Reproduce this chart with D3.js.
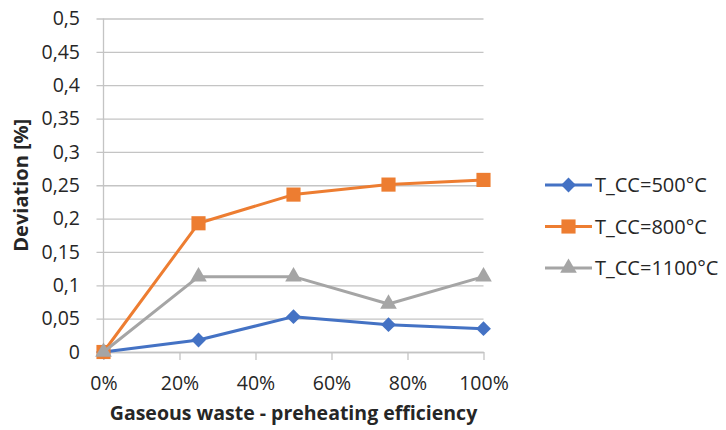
<!DOCTYPE html>
<html>
<head>
<meta charset="utf-8">
<script src="https://cdn.jsdelivr.net/npm/d3@7"></script>
<style>
  html, body { margin: 0; padding: 0; background: #fff; }
  svg text { font-family: "Open Sans", "DejaVu Sans", sans-serif; fill: #262626; }
</style>
</head>
<body>
<svg id="chart" width="726" height="430"></svg>
<script>
// Preheating efficiency (fraction) for each measured point
const efficiency = [0, 0.25, 0.5, 0.75, 1.0];

// Deviation [%] for each combustion chamber temperature
const dev500 = [0, 0.018, 0.053, 0.041, 0.035];
const dev800 = [0, 0.193, 0.236, 0.251, 0.258];
const dev1100 = [0, 0.113, 0.113, 0.072, 0.113];

const seriesNames = ["T_CC=500°C", "T_CC=800°C", "T_CC=1100°C"];
const seriesColors = ["#4472C4", "#ED7D31", "#A5A5A5"];
const seriesMarkers = ["diamond", "square", "triangle"];

const yTicks = [0, 0.05, 0.1, 0.15, 0.2, 0.25, 0.3, 0.35, 0.4, 0.45, 0.5];
const xTicks = [0, 0.2, 0.4, 0.6, 0.8, 1.0];

const xTitle = "Gaseous waste - preheating efficiency";
const yTitle = "Deviation [%]";

const svg = d3.select("#chart");
const plot = { left: 103.5, right: 483.5, top: 18.5, bottom: 352 };

const x = d3.scaleLinear().domain([0, 1]).range([plot.left, plot.right]);
const y = d3.scaleLinear().domain([0, 0.5]).range([plot.bottom, plot.top]);

const fmtY = d => String(+d.toFixed(2)).replace(".", ",");
const fmtX = d => Math.round(d * 100) + "%";

const gridColor = "#c4c4c4";
const tickFont = 19.5;

// Horizontal gridlines with short outside ticks on the value axis
const yAxis = d3.axisLeft(y).tickValues(yTicks).tickFormat(fmtY)
  .tickSize(-(plot.right - plot.left)).tickSizeOuter(0).tickPadding(23.5);
const gy = svg.append("g").attr("transform", `translate(${plot.left},0)`).call(yAxis);
gy.select(".domain").remove();
gy.selectAll(".tick line").attr("stroke", gridColor).attr("stroke-width", 1.3)
  .attr("x1", -7);
gy.selectAll(".tick text").attr("font-size", tickFont).attr("fill", "#262626")
  .attr("font-family", "Open Sans, sans-serif");

// Vertical axis line
svg.append("line")
  .attr("x1", plot.left).attr("x2", plot.left)
  .attr("y1", plot.top).attr("y2", plot.bottom + 7)
  .attr("stroke", gridColor).attr("stroke-width", 1.3);

// X axis with downward ticks
const xAxis = d3.axisBottom(x).tickValues(xTicks).tickFormat(fmtX)
  .tickSize(8).tickSizeOuter(0).tickPadding(16);
const gx = svg.append("g").attr("transform", `translate(0,${plot.bottom})`).call(xAxis);
gx.select(".domain").attr("stroke", gridColor).attr("stroke-width", 1.3);
gx.selectAll(".tick line").attr("stroke", gridColor).attr("stroke-width", 1.3);
gx.selectAll(".tick text").attr("font-size", tickFont).attr("fill", "#262626")
  .attr("font-family", "Open Sans, sans-serif");

// Axis titles
svg.append("text")
  .attr("x", (plot.left + plot.right) / 2).attr("y", 420)
  .attr("text-anchor", "middle").attr("font-size", 19.5).attr("font-weight", "bold")
  .text(xTitle);
svg.append("text")
  .attr("transform", `translate(28,${(plot.top + plot.bottom) / 2}) rotate(-90)`)
  .attr("text-anchor", "middle").attr("font-size", 20).attr("font-weight", "bold")
  .text(yTitle);

// Marker symbol generators
const symbolFor = {
  diamond: d3.symbol().type(d3.symbolSquare).size(110),
  square: d3.symbol().type(d3.symbolSquare).size(200),
  triangle: d3.symbol().type(d3.symbolTriangle).size(120)
};
const rotFor = { diamond: 45, square: 0, triangle: 0 };

const seriesData = [dev500, dev800, dev1100];
const line = d3.line().x((d, i) => x(efficiency[i])).y(d => y(d));

seriesData.forEach((vals, s) => {
  const g = svg.append("g");
  g.append("path").datum(vals)
    .attr("d", line).attr("fill", "none")
    .attr("stroke", seriesColors[s]).attr("stroke-width", 3)
    .attr("stroke-linejoin", "round").attr("stroke-linecap", "round");
  g.selectAll("path.marker").data(vals).join("path")
    .attr("class", "marker")
    .attr("d", symbolFor[seriesMarkers[s]])
    .attr("transform", (d, i) => `translate(${x(efficiency[i])},${y(d)}) rotate(${rotFor[seriesMarkers[s]]})`)
    .attr("fill", seriesColors[s]);
});

// Legend
const legendRows = [185, 226.5, 268];
seriesNames.forEach((name, s) => {
  const g = svg.append("g").attr("transform", `translate(545,${legendRows[s]})`);
  g.append("line").attr("x1", 0).attr("x2", 47).attr("y1", 0).attr("y2", 0)
    .attr("stroke", seriesColors[s]).attr("stroke-width", 3);
  g.append("path").attr("d", symbolFor[seriesMarkers[s]])
    .attr("transform", `translate(23.5,0) rotate(${rotFor[seriesMarkers[s]]})`)
    .attr("fill", seriesColors[s]);
  g.append("text").attr("x", 50).attr("y", 0).attr("dy", "0.35em")
    .attr("font-size", 20).text(name);
});
</script>
</body>
</html>
